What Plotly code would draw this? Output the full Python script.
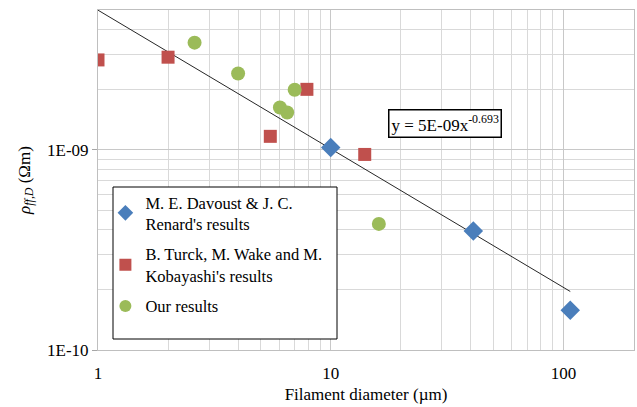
import plotly.graph_objects as go
import numpy as np

# Data
davoust_x = [10.0, 41.0, 107.0]
davoust_y = [1.03e-9, 3.94e-10, 1.58e-10]

turck_x = [1.0, 2.0, 5.5, 7.9, 14.0]
turck_y = [2.82e-9, 2.91e-9, 1.17e-9, 2.01e-9, 9.5e-10]

our_x = [2.6, 4.0, 6.05, 6.5, 7.0, 16.1]
our_y = [3.44e-9, 2.41e-9, 1.63e-9, 1.54e-9, 2.0e-9, 4.27e-10]

trend_coef = 5e-9
trend_exp = -0.693
trend_x = [1.0, 107.0]
trend_y = [trend_coef * x ** trend_exp for x in trend_x]

x_ticks = [1, 10, 100]
x_tick_labels = ["1", "10", "100"]
y_ticks = [1e-10, 1e-9]
y_tick_labels = ["1E-10", "1E-09"]

FONT = "Times New Roman, Liberation Serif, serif"

fig = go.Figure()
fig.add_trace(go.Scatter(x=trend_x, y=trend_y, mode="lines",
                         line=dict(color="#262626", width=1), showlegend=False,
                         hoverinfo="skip"))
fig.add_trace(go.Scatter(x=davoust_x, y=davoust_y, mode="markers",
                         name="M. E. Davoust & J. C.<br>Renard's results",
                         legendgroup="a",
                         marker=dict(symbol="diamond", size=15, color="#4a7ebb")))
fig.add_trace(go.Scatter(x=turck_x, y=turck_y, mode="markers",
                         name="B. Turck, M. Wake and M.<br>Kobayashi's results",
                         legendgroup="b",
                         marker=dict(symbol="square", size=13, color="#c0504d")))
fig.add_trace(go.Scatter(x=our_x, y=our_y, mode="markers",
                         name="Our results",
                         legendgroup="c",
                         marker=dict(symbol="circle", size=14, color="#9bbb59")))

fig.update_xaxes(type="log", range=[0, np.log10(201)], automargin=False,
                 tickvals=x_ticks, ticktext=x_tick_labels,
                 showgrid=True, gridcolor="#c8c8c8", gridwidth=1,
                 minor=dict(showgrid=True, gridcolor="#d9d9d9", gridwidth=1,
                            dtick="D1", ticks=""),
                 showline=True, linecolor="#bfbfbf", linewidth=1, mirror=True,
                 ticks="", zeroline=False, ticklabelstandoff=8,
                 tickfont=dict(family=FONT, size=17, color="#000"),
                 title=dict(text="Filament diameter (µm)",
                            font=dict(family=FONT, size=17, color="#000"),
                            standoff=5))
fig.update_yaxes(type="log", range=[-10, np.log10(5.01e-9)], automargin=False,
                 tickvals=y_ticks, ticktext=y_tick_labels,
                 showgrid=True, gridcolor="#c8c8c8", gridwidth=1,
                 minor=dict(showgrid=True, gridcolor="#d9d9d9", gridwidth=1,
                            dtick="D1", ticks=""),
                 showline=True, linecolor="#bfbfbf", linewidth=1, mirror=True,
                 ticks="outside", ticklen=5, tickcolor="#a6a6a6",
                 zeroline=False,
                 tickfont=dict(family=FONT, size=17, color="#000"),
                 title=dict(text="<i>ρ<sub>ff,D</sub></i> (Ωm)",
                            font=dict(family=FONT, size=17, color="#000"),
                            standoff=12))

fig.add_annotation(x=np.log10(31), y=np.log10(1.36e-9), xref="x", yref="y",
                   text="y = 5E-09x<sup>-0.693</sup>", showarrow=False,
                   font=dict(family=FONT, size=17, color="#000"),
                   bordercolor="#000", borderwidth=1.5, borderpad=2,
                   bgcolor="white")

# legend frame
fig.add_shape(type="rect", xref="paper", yref="paper",
              x0=15/536, x1=239/536, y0=11/340, y1=163/340,
              line=dict(color="#000", width=1), fillcolor="white", layer="above")

fig.update_layout(
    width=637, height=407,
    margin=dict(l=98, r=3, t=10, b=57),
    plot_bgcolor="white", paper_bgcolor="white",
    font=dict(family=FONT, size=16, color="#000"),
    legend=dict(x=0.0138, y=0.4856, xanchor="left", yanchor="top",
                bgcolor="rgba(0,0,0,0)", borderwidth=0,
                font=dict(family=FONT, size=16.5, color="#000"),
                itemsizing="constant", itemwidth=30,
                tracegroupgap=6),
)

fig.write_html("out.html", config={"displayModeBar": False},
               post_script="document.body.style.margin='0';document.body.style.overflow='hidden';")
